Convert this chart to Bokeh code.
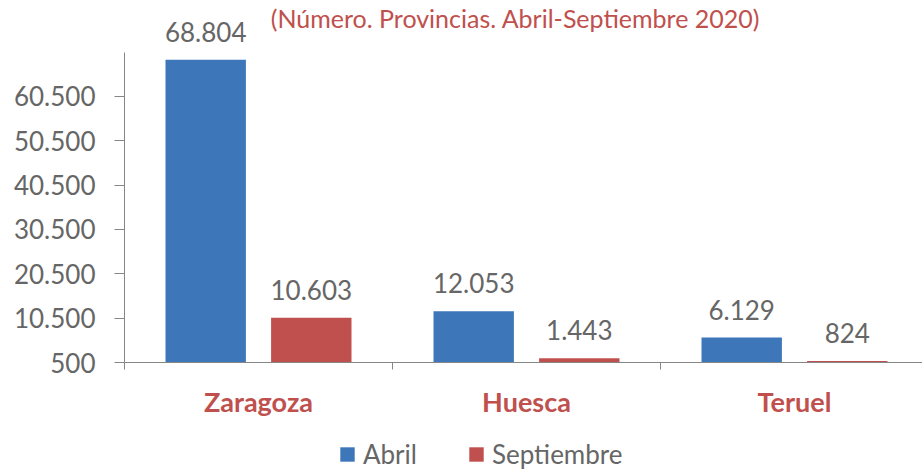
import numpy as np
from bokeh.plotting import figure
from bokeh.layouts import column
from bokeh.models import Range1d, FixedTicker, Legend, LegendItem, Label, ColumnDataSource
from bokeh.core.properties import value
from bokeh.embed import file_html
from bokeh.resources import INLINE

# ---- data ----
provincias = ["Zaragoza", "Huesca", "Teruel"]
abril = [68804, 12053, 6129]
septiembre = [10603, 1443, 824]
series_names = ["Abril", "Septiembre"]
y_ticks = [500, 10500, 20500, 30500, 40500, 50500, 60500]
y_tick_labels = ["500", "10.500", "20.500", "30.500", "40.500", "50.500", "60.500"]
title_text = "(Número. Provincias. Abril-Septiembre 2020)"

BLUE = "#3d77ba"
RED = "#c0504d"
GRAY_TXT = "#666666"
AXIS = "#868686"
FONT = "Lato"

def fmt(v):
    return f"{v:,}".replace(",", ".")

n = len(provincias)
centers = np.arange(n) + 0.5
off = 0.197
bw = 0.30

p = figure(width=922, height=440, output_backend="svg", toolbar_location=None,
           x_range=Range1d(0, 798 / 268), y_range=Range1d(500, 82150),
           min_border_left=124, min_border_right=0, min_border_top=0, min_border_bottom=78)
p.outline_line_color = None
p.xgrid.grid_line_color = None
p.ygrid.grid_line_color = None
p.background_fill_color = "white"
p.border_fill_color = "white"

base = [500] * n
src_a = ColumnDataSource(dict(x=centers - off, top=abril, bottom=base, lab=[fmt(v) for v in abril]))
src_s = ColumnDataSource(dict(x=centers + off, top=septiembre, bottom=base, lab=[fmt(v) for v in septiembre]))

r_a = p.vbar(x="x", top="top", bottom="bottom", width=bw, source=src_a, fill_color=BLUE, line_color=None)
r_s = p.vbar(x="x", top="top", bottom="bottom", width=bw, source=src_s, fill_color=RED, line_color=None)

for src in (src_a, src_s):
    p.text(x="x", y="top", text="lab", source=src, text_align="center", text_baseline="alphabetic",
           y_offset=-28, text_font=value(FONT), text_font_size="26px", text_color=GRAY_TXT)

# y axis
ya = p.yaxis[0]
ya.ticker = FixedTicker(ticks=y_ticks, minor_ticks=[])
ya.major_label_overrides = {t: l for t, l in zip(y_ticks, y_tick_labels)}
ya.bounds = (500, 70500)
ya.axis_line_color = AXIS
ya.major_tick_line_color = AXIS
ya.major_tick_out = 10
ya.major_tick_in = 0
ya.major_label_standoff = 19
ya.major_label_text_font = FONT
ya.major_label_text_font_size = "26px"
ya.major_label_text_color = GRAY_TXT

# x axis
xa = p.xaxis[0]
xa.ticker = FixedTicker(ticks=list(centers), minor_ticks=list(range(n + 1)))
xa.major_label_overrides = {float(c): name for c, name in zip(centers, provincias)}
xa.axis_line_color = AXIS
xa.major_tick_line_color = None
xa.major_tick_out = 0
xa.major_tick_in = 0
xa.minor_tick_line_color = AXIS
xa.minor_tick_out = 7
xa.minor_tick_in = 0
xa.major_label_standoff = 15
xa.major_label_text_font = FONT
xa.major_label_text_font_style = "bold"
xa.major_label_text_font_size = "27px"
xa.major_label_text_color = RED

# title
p.add_layout(Label(x=(515 - 124) / 268, y=78094, text=title_text, text_align="center",
                   text_baseline="alphabetic", text_font=FONT, text_font_size="25px", text_color=RED))

# legend strip below
pl = figure(width=922, height=30, output_backend="svg", toolbar_location=None,
            x_axis_type=None, y_axis_type=None, x_range=Range1d(0, 1), y_range=Range1d(0, 1),
            min_border_left=124, min_border_right=0, min_border_top=0, min_border_bottom=0)
pl.outline_line_color = None
pl.xgrid.grid_line_color = None
pl.ygrid.grid_line_color = None
pl.background_fill_color = "white"
pl.border_fill_color = "white"
la = pl.vbar(x=[0.5], top=[0], bottom=[0], width=0.0, fill_color=BLUE, line_color=None)
ls = pl.vbar(x=[0.5], top=[0], bottom=[0], width=0.0, fill_color=RED, line_color=None)
legend = Legend(items=[LegendItem(label=series_names[0], renderers=[la]),
                       LegendItem(label=series_names[1], renderers=[ls])],
                orientation="horizontal", location=(214, 0),
                glyph_width=18, glyph_height=18, label_standoff=7, spacing=50,
                padding=0, margin=0, border_line_color=None, background_fill_alpha=0,
                label_text_font=FONT, label_text_font_size="26px", label_text_color=GRAY_TXT)
pl.add_layout(legend, "center")

layout = column(p, pl, spacing=0)
open("out.html", "w").write(file_html(layout, INLINE))
